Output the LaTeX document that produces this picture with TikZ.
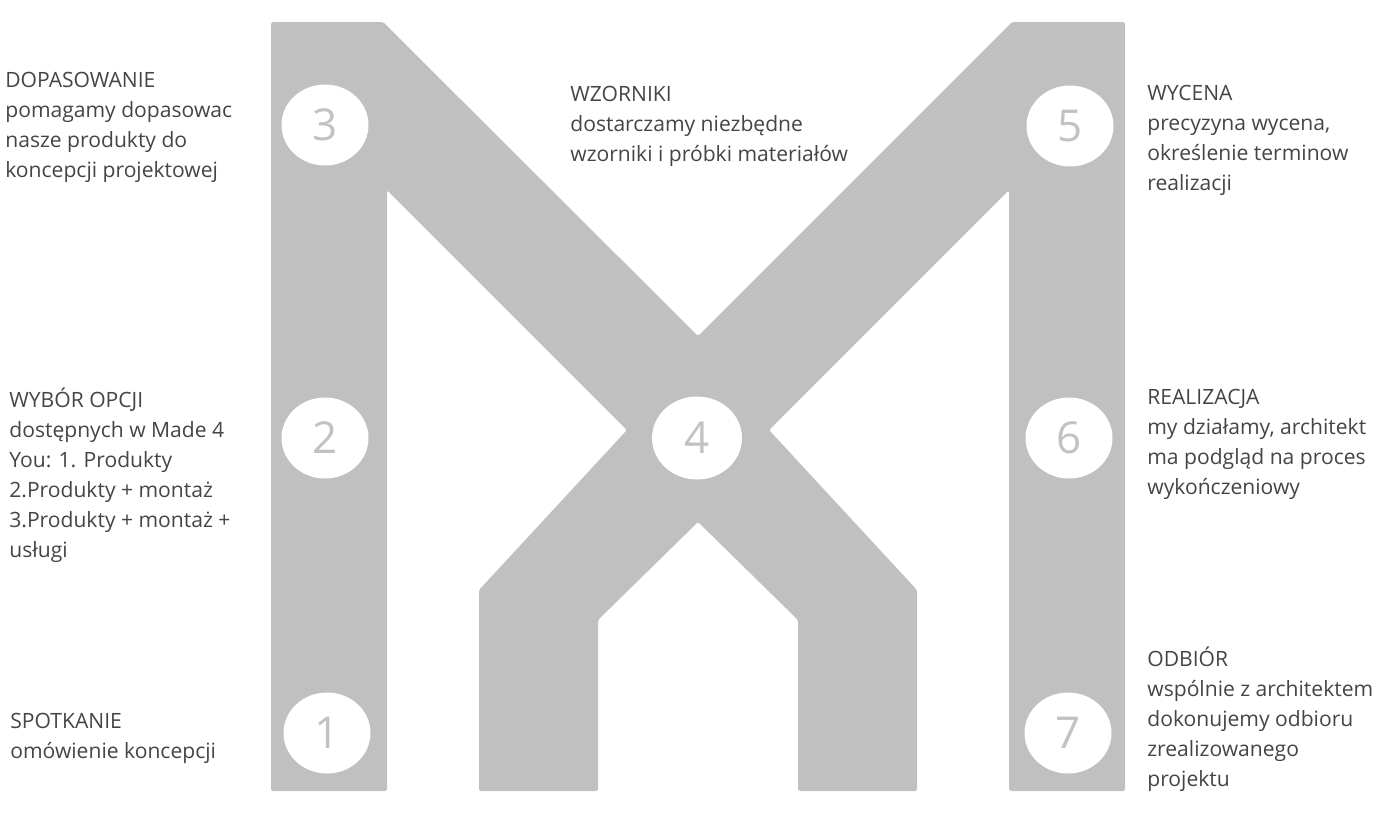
\documentclass[tikz,border=0pt]{standalone}
\usepackage{fontspec}
\setmainfont{Open Sans}
\usetikzlibrary{shapes.geometric}
\definecolor{mgray}{HTML}{C0C0C0}
\definecolor{numgray}{HTML}{C2C2C2}
\definecolor{txtgray}{HTML}{454545}
\begin{document}
\begin{tikzpicture}[x=0.02cm, y=-0.02cm,
  stepnum/.style={ellipse, fill=white, inner sep=0pt, minimum width=1.74cm,
    minimum height=1.62cm, text=numgray, font=\fontsize{25}{25}\selectfont},
  stepinfo/.style={anchor=base west, align=left, inner sep=0pt, text=txtgray,
    font=\fontsize{12}{17.07}\selectfont}]
  % Frame
  \useasboundingbox (0,0) rectangle (1398,819);

  % Dimensions (pixels)
  \def\top{22}
  \def\bot{791}
  \def\mid{698}

  % The M
  \fill[mgray, rounded corners=1pt]
    (271,\bot) -- (271,\top) -- (383,\top) -- (\mid,336) -- (1012,\top)
    -- (1125,\top) -- (1125,\bot) -- (1009,\bot) -- (1009,190) -- (769,430)
    -- (917,590) -- (917,\bot) -- (798,\bot) -- (798,620) -- (\mid,522)
    -- (598,620) -- (598,\bot) -- (479,\bot) -- (479,590) -- (627,430)
    -- (387,190) -- (387,\bot) -- cycle;

  % Steps
  \node[stepnum] (s1) at (327,733) {1};
  \node[stepnum] (s2) at (325,438) {2};
  \node[stepnum] (s3) at (325,125) {3};
  \node[stepnum, minimum width=1.8cm, minimum height=1.66cm] (s4) at (697,438) {4};
  \node[stepnum] (s5) at (1070,126) {5};
  \node[stepnum] (s6) at (1069,438) {6};
  \node[stepnum] (s7) at (1068,733) {7};

  % Descriptions (placed at the baseline of their last line)
  \node[stepinfo] (dopasowanie) at (5,177)
    {DOPASOWANIE\\pomagamy dopasowac\\nasze produkty do\\koncepcji projektowej};
  \node[stepinfo] (wybor) at (9,557)
    {WYBÓR OPCJI\\dostępnych w Made 4\\You: 1. Produkty\\2.Produkty + montaż\\3.Produkty + montaż +\\usługi};
  \node[stepinfo] (spotkanie) at (10,758)
    {SPOTKANIE\\omówienie koncepcji};
  \node[stepinfo] (wzorniki) at (570,161)
    {WZORNIKI\\dostarczamy niezbędne\\wzorniki i próbki materiałów};
  \node[stepinfo] (wycena) at (1147,190)
    {WYCENA\\precyzyna wycena,\\określenie terminow\\realizacji};
  \node[stepinfo] (realizacja) at (1147,494)
    {REALIZACJA\\my działamy, architekt\\ma podgląd na proces\\wykończeniowy};
  \node[stepinfo] (odbior) at (1147,786)
    {ODBIÓR\\wspólnie z architektem\\dokonujemy odbioru\\zrealizowanego\\projektu};
\end{tikzpicture}
\end{document}
